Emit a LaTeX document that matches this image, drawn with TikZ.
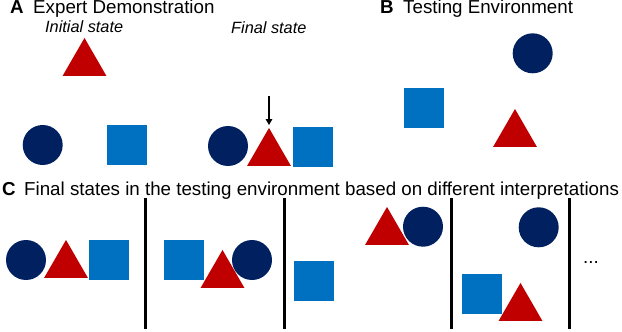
\documentclass[tikz,border=0pt]{standalone}
\usepackage{fontspec}
\setmainfont{Liberation Sans}
\usepackage{xcolor}
\usepackage{tikz}
\usetikzlibrary{arrows.meta, shapes.geometric}
\definecolor{navyblue}{HTML}{002060}
\definecolor{boxblue}{HTML}{0070C0}
\definecolor{trired}{HTML}{C00000}

\tikzset{
  ball/.style={circle, fill=navyblue, inner sep=0pt, minimum size=40pt},
  block/.style={rectangle, fill=boxblue, inner sep=0pt, minimum size=40pt},
  wedge/.style={regular polygon, regular polygon sides=3, fill=trired, inner sep=0pt, minimum size=50.7pt},
  heading/.style={anchor=base west, inner sep=0pt, font=\fontsize{18.75}{22}\selectfont},
  caption/.style={anchor=base west, inner sep=0pt, font=\fontsize{16.3}{19}\selectfont\itshape},
  divider/.style={line width=3pt}
}

\begin{document}
\begin{tikzpicture}[x=1pt, y=-1pt]
    \useasboundingbox (0,0) rectangle (622,332);

    % panel A
    \node[heading, font=\fontsize{18.75}{22}\selectfont\bfseries] (labA) at (10,13.3) {A};
    \node[heading] (titleA) at (33,13.3) {Expert Demonstration};
    \node[caption] (capinit) at (45,32) {Initial state};
    \node[caption] (capfinal) at (231,33) {Final state};

    \node[wedge] (initTri) at (84.5,63.3) {};
    \node[ball] (initBall) at (42.7,145) {};
    \node[block] (initBlock) at (127,145) {};

    \node[ball] (finalBall) at (228,146) {};
    \node[wedge] (finalTri) at (269,153.3) {};
    \node[block] (finalBlock) at (313,147) {};
    \coordinate (arrowTop) at (269,96);
    \draw[line width=2pt, -{Triangle[length=6pt, width=6.5pt]}, shorten >=2.5pt]
      (arrowTop) -- (finalTri.corner 1);

    % panel B
    \node[heading, font=\fontsize{18.75}{22}\selectfont\bfseries] (labB) at (380,13.3) {B};
    \node[heading] (titleB) at (403,13.3) {Testing Environment};
    \node[ball] (testBall) at (532.7,53.3) {};
    \node[block] (testBlock) at (423.5,108) {};
    \node[wedge] (testTri) at (515,134.3) {};

    % panel C
    \node[heading, font=\fontsize{18.75}{22}\selectfont\bfseries] (labC) at (2,195) {C};
    \node[heading] (titleC) at (24,195) {Final states in the testing environment based on different interpretations};

    \node[ball] (ballOne) at (26,260) {};
    \node[wedge] (triOne) at (66,265.3) {};
    \node[block] (blockOne) at (108.5,260) {};
    \draw[divider] (145.7,198) -- (145.7,329);

    \node[block] (blockTwo) at (184,260) {};
    \node[wedge] (triTwo) at (222.5,275.3) {};
    \node[ball] (ballTwo) at (252,260) {};
    \draw[divider] (284,198) -- (284,329);

    \node[block] (blockThree) at (314,281) {};
    \node[wedge] (triThree) at (387,232.3) {};
    \node[ball] (ballThree) at (423,226.7) {};
    \draw[divider] (451.7,198) -- (451.7,329);

    \node[ball] (ballFour) at (538.7,227.3) {};
    \node[block] (blockFour) at (482,294) {};
    \node[wedge] (triFour) at (520.5,308.3) {};
    \draw[divider] (569,198) -- (569,329);

    \node[heading] (moreDots) at (583,263) {...};
  \end{tikzpicture}
\end{document}
